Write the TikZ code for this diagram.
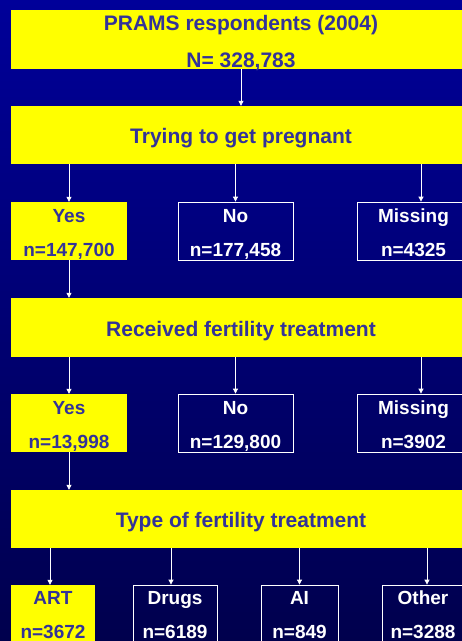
\documentclass[tikz,border=0pt]{standalone}
\usepackage{fontspec}
\setmainfont{Liberation Sans}
\usepackage{xcolor}
\usepackage{tikz}
\usetikzlibrary{arrows.meta}

\definecolor{slideblue}{RGB}{0,0,153}
\definecolor{slidenavy}{RGB}{0,0,77}
\definecolor{boxyellow}{RGB}{255,255,0}
\definecolor{boxtext}{RGB}{51,51,153}

\begin{document}
\begin{tikzpicture}[
    x=1pt, y=-1pt,
    bigbox/.style={
        rectangle,
        fill=boxyellow,
        text=boxtext,
        minimum width=460pt,
        minimum height=58pt,
        inner sep=0pt,
        align=center,
        text height=17pt,
        text depth=0pt,
        font=\fontsize{21pt}{37pt}\selectfont\bfseries
    },
    rowbox/.style={
        rectangle,
        minimum height=58pt,
        inner sep=0pt,
        align=center,
        text height=50pt,
        text depth=0pt,
        font=\fontsize{19pt}{34pt}\selectfont\bfseries
    },
    yesbox/.style={rowbox, fill=boxyellow, text=boxtext},
    otherbox/.style={rowbox, draw=white, line width=0.8pt, text=white},
    arrow/.style={
        -{Triangle[length=5pt, width=5pt]},
        white,
        line width=0.8pt
    }
]
% Background
\useasboundingbox (0,0) rectangle (462,641);
\clip (0,0) rectangle (462,641);
\shade[top color=slideblue, bottom color=slidenavy] (0,0) rectangle (462,641);

% Main boxes
\node[bigbox, minimum height=59pt, text height=55pt] (prams) at (241,39.5)
    {PRAMS respondents (2004)\\N= 328,783};
\node[bigbox] (trying) at (241,135) {Trying to get pregnant};
\node[bigbox, minimum height=59pt] (received) at (241,327.5) {Received fertility treatment};
\node[bigbox] (type) at (241,519) {Type of fertility treatment};

% Pregnancy intention
\node[yesbox, minimum width=116pt] (yes1) at (69,231) {Yes\\n=147,700};
\node[otherbox, minimum width=115pt] (no1) at (235.5,231) {No\\n=177,458};
\node[otherbox, minimum width=113pt] (miss1) at (413.5,231) {Missing\\n=4325};

% Fertility treatment
\node[yesbox, minimum width=116pt] (yes2) at (69,423) {Yes\\n=13,998};
\node[otherbox, minimum width=115pt] (no2) at (235.5,423) {No\\n=129,800};
\node[otherbox, minimum width=113pt] (miss2) at (413.5,423) {Missing\\n=3902};

% Treatment type
\node[yesbox, minimum width=84pt, text height=48pt] (art) at (53,614) {ART\\n=3672};
\node[otherbox, minimum width=84pt, text height=48pt] (drugs) at (175,614) {Drugs\\n=6189};
\node[otherbox, minimum width=77pt, text height=48pt] (ai) at (299.5,614) {AI\\n=849};
\node[otherbox, minimum width=82pt, text height=48pt] (other) at (423,614) {Other\\n=3288};

% Arrows
\draw[arrow] (prams) -- (trying);
\draw[arrow] (trying.south -| yes1.north) -- (yes1.north);
\draw[arrow] (trying.south -| no1.north) -- (no1.north);
\draw[arrow] ([xshift=7.5pt]trying.south -| miss1.north) -- ([xshift=7.5pt]miss1.north);
\draw[arrow] (yes1) -- (received.north -| yes1.south);

\draw[arrow] (received.south -| yes2.north) -- (yes2.north);
\draw[arrow] (received.south -| no2.north) -- (no2.north);
\draw[arrow] ([xshift=7.5pt]received.south -| miss2.north) -- ([xshift=7.5pt]miss2.north);
\draw[arrow] (yes2) -- (type.north -| yes2.south);

\draw[arrow] ([xshift=-3pt]type.south -| art.north) -- ([xshift=-3pt]art.north);
\draw[arrow] ([xshift=-4pt]type.south -| drugs.north) -- ([xshift=-4pt]drugs.north);
\draw[arrow] (type.south -| ai.north) -- (ai.north);
\draw[arrow] ([xshift=4pt]type.south -| other.north) -- ([xshift=4pt]other.north);
\end{tikzpicture}
\end{document}
